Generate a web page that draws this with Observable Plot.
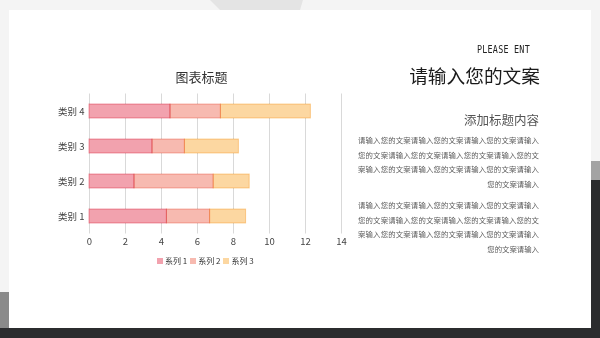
<!DOCTYPE html>
<html><head><meta charset="utf-8">
<script src="https://cdn.jsdelivr.net/npm/d3@7"></script>
<script src="https://cdn.jsdelivr.net/npm/@observablehq/plot@0.6"></script>
<style>
html,body{margin:0;padding:0;}
body{width:600px;height:338px;overflow:hidden;background:#f4f4f4;position:relative;font-family:"Noto Sans CJK SC","Noto Sans",sans-serif;}
.abs{position:absolute;}
#panel{left:9px;top:10px;width:582px;height:318px;background:#fff;}
#bottom{left:0;top:328px;width:600px;height:10px;background:#2b2c2e;}
#rdark{left:591px;top:180px;width:9px;height:148px;background:#2b2c2e;}
#rmid{left:591px;top:161px;width:9px;height:19px;background:#a3a3a3;}
#lgray{left:0;top:292px;width:9px;height:36px;background:#8a8a8a;}
#trap{left:0;top:0;width:600px;height:10px;}
#ctitle{left:150px;top:67px;width:103px;text-align:center;font-size:13px;color:#333;}
#please{left:440px;top:44px;width:90px;text-align:right;font-family:"DejaVu Sans Mono",monospace;font-weight:normal;font-size:10px;letter-spacing:0.3px;color:#222;transform:scaleX(0.84);transform-origin:right center;white-space:nowrap;}
#big{left:380px;top:61px;width:160px;text-align:right;font-size:18.7px;color:#1a1a1a;}
#sub{left:400px;top:110px;width:139px;text-align:right;font-size:12.5px;color:#555;}
.para{left:358px;width:181px;font-size:7.4px;color:#5a5a5a;line-height:14.6px;}
.para div{text-align:justify;text-align-last:justify;white-space:nowrap;}
.para div.last{text-align:right;text-align-last:right;}
#legend{left:157px;top:255px;}
#legend div{min-height:0 !important;margin:0 !important;}
#legend span{margin-right:3px !important;}
#legend svg{margin-right:2px !important;}
</style></head>
<body>
<div id="panel" class="abs"></div>
<svg class="abs" id="trap" width="600" height="10"><polygon points="210,0 303,0 300,10 220,10" fill="#e4e4e4"/></svg>
<div id="rmid" class="abs"></div>
<div id="rdark" class="abs"></div>
<div id="lgray" class="abs"></div>
<div id="bottom" class="abs"></div>
<div id="ctitle" class="abs">图表标题</div>
<div id="please" class="abs">PLEASE ENT</div>
<div id="big" class="abs">请输入您的文案</div>
<div id="sub" class="abs">添加标题内容</div>
<div class="abs para" style="top:133px">
<div>请输入您的文案请输入您的文案请输入您的文案请输入</div>
<div>您的文案请输入您的文案请输入您的文案请输入您的文</div>
<div>案输入您的文案请输入您的文案请输入您的文案请输入</div>
<div class="last">您的文案请输入</div>
</div>
<div class="abs para" style="top:198px">
<div>请输入您的文案请输入您的文案请输入您的文案请输入</div>
<div>您的文案请输入您的文案请输入您的文案请输入您的文</div>
<div>案输入您的文案请输入您的文案请输入您的文案请输入</div>
<div class="last">您的文案请输入</div>
</div>
<div id="chart" class="abs" style="left:40px;top:85px"></div>
<div id="legend" class="abs"></div>
<script>
const categories = ["类别 1", "类别 2", "类别 3", "类别 4"];
const series = ["系列 1", "系列 2", "系列 3"];
const series1 = [4.3, 2.5, 3.5, 4.5];
const series2 = [2.4, 4.4, 1.8, 2.8];
const series3 = [2, 2, 3, 5];
const xTicks = [0, 2, 4, 6, 8, 10, 12, 14];
const colors = ["#f2a2ae", "#f7bab0", "#fcd7a1"];

const values = [series1, series2, series3];
const rows = [];
categories.forEach((c, i) => series.forEach((s, j) => rows.push({cat: c, series: s, value: values[j][i]})));

const W = 316, H = 175;
const plot = Plot.plot({
  width: W, height: H,
  marginLeft: 49, marginRight: 15, marginTop: 8.5, marginBottom: 26.5,
  style: {fontFamily: "'Noto Sans CJK SC', sans-serif", fontSize: "9.5px", color: "#444", background: "transparent"},
  x: {domain: [0, 14], ticks: xTicks, tickSize: 0, tickPadding: 4, label: null},
  y: {domain: categories.slice().reverse(), paddingInner: 0.6, paddingOuter: 0.3, round: false, tickSize: 0, tickPadding: 5, label: null},
  color: {domain: series, range: colors},
  marks: [
    Plot.gridX(xTicks, {stroke: "#d9d9d9", strokeOpacity: 1}),
    Plot.barX(rows, Plot.stackX({x: "value", y: "cat", fill: "series"})),
    Plot.barX(rows, Plot.stackX({x: "value", y: "cat", stroke: "series", fill: "none", strokeWidth: 1, mixBlendMode: "multiply"}))
  ]
});
document.getElementById("chart").appendChild(plot);

const leg = Plot.legend({color: {domain: series, range: colors}, swatchSize: 6,
  style: {fontFamily: "'Noto Sans CJK SC', sans-serif", fontSize: "8px", color: "#333"}});
document.getElementById("legend").appendChild(leg);
</script>
</body></html>
